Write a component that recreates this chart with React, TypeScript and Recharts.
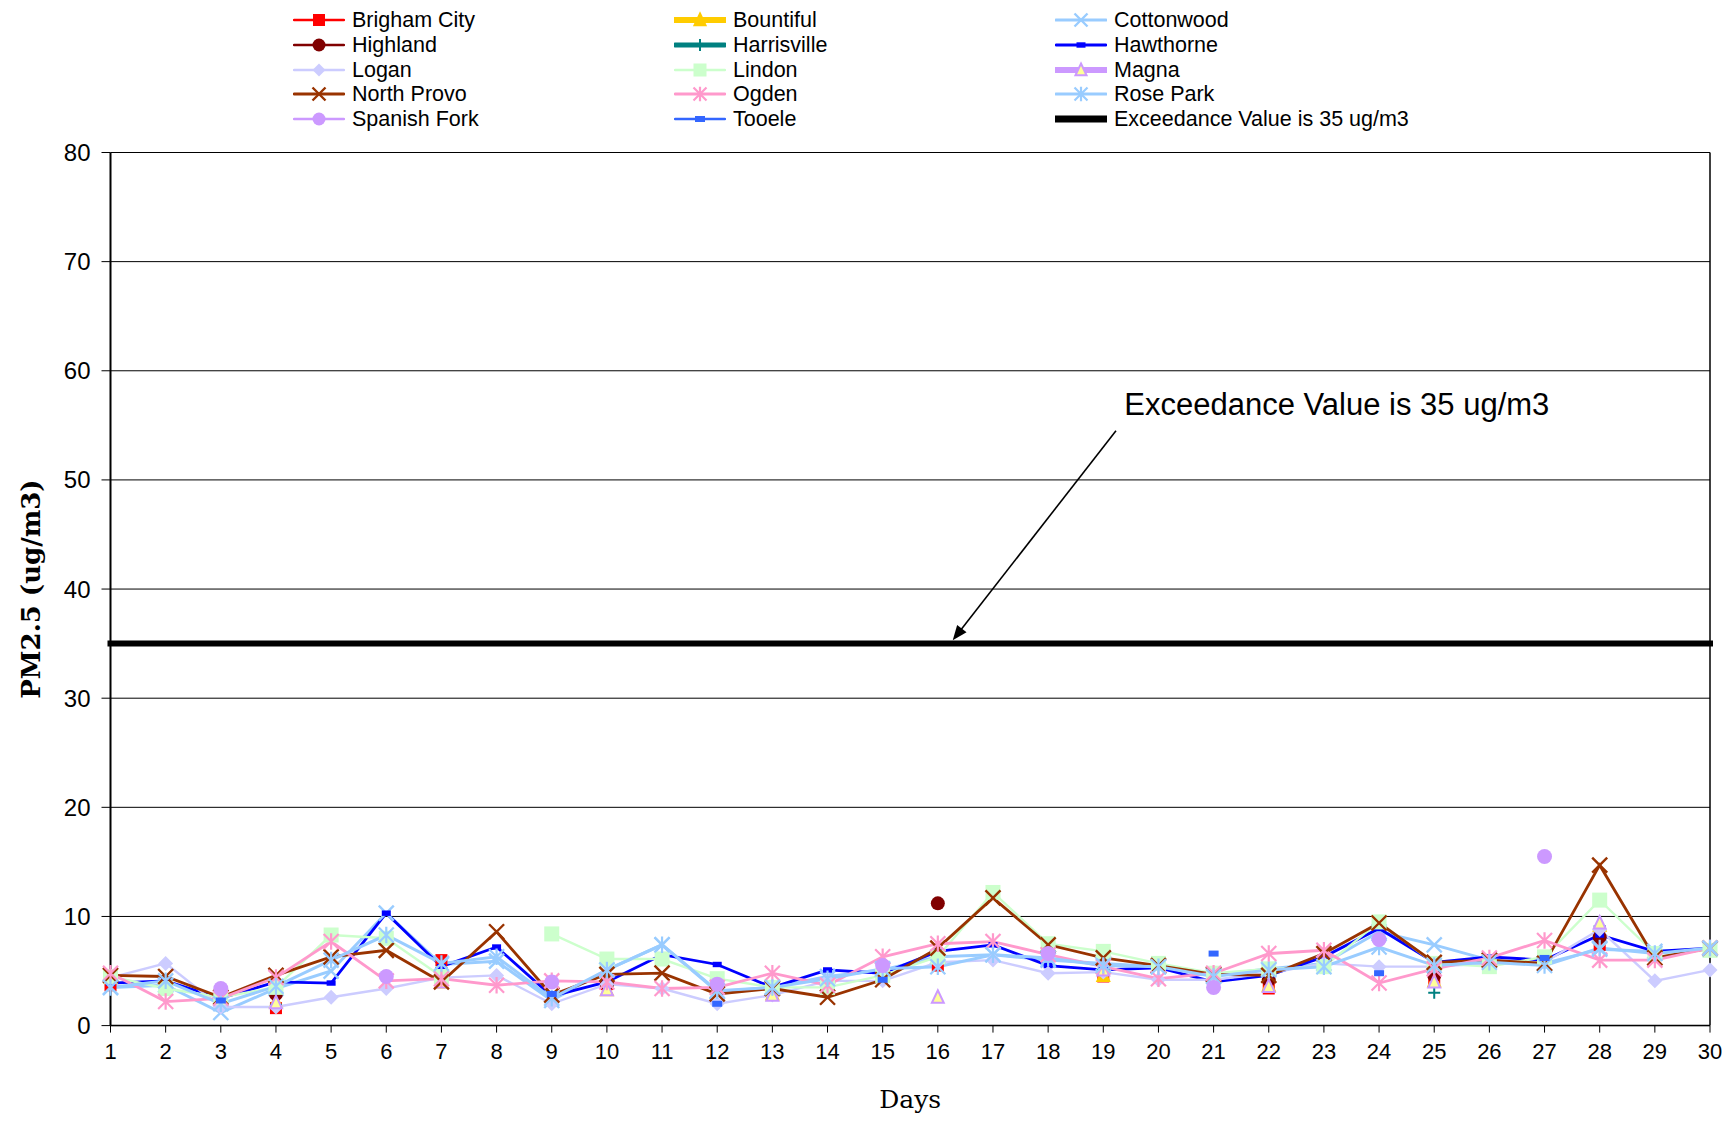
import React from 'react';
import { LineChart, Line, XAxis, YAxis, CartesianGrid, Legend, ReferenceLine, ReferenceDot, Label } from 'recharts';

const days = [1, 2, 3, 4, 5, 6, 7, 8, 9, 10, 11, 12, 13, 14, 15, 16, 17, 18, 19, 20, 21, 22, 23, 24, 25, 26, 27, 28, 29, 30];
const yTicks = [0, 10, 20, 30, 40, 50, 60, 70, 80];

const brighamCity = [3.7, null, null, 1.6, null, null, 6.0, null, null, 3.8, null, null, 3.3, null, null, 5.5, null, null, 4.5, null, null, 3.4, null, null, 4.3, null, null, 7.4, null, null];
const bountiful = [null, null, null, 2.2, null, null, 4.0, null, null, 3.3, null, null, 2.9, null, null, null, null, null, 4.6, null, null, 3.7, null, null, 4.1, null, null, 9.2, null, null];
const cottonwood = [3.5, 3.7, 1.2, 3.4, 5.0, 10.3, 5.6, 5.9, 2.3, 5.1, 7.4, 3.1, 3.5, 4.5, 5.1, 6.3, 6.5, 6.0, 5.7, 5.4, 4.6, 5.2, 5.7, 8.6, 7.4, 6.0, 5.7, 7.0, 6.8, 7.0];
const highland = [null, null, null, 2.9, null, null, null, null, null, 3.8, null, null, 3.3, null, null, 11.2, null, null, 6.8, null, null, 4.2, null, null, 4.6, null, null, 8.1, null, null];
const harrisville = [3.9, null, null, 1.9, null, null, 5.3, null, null, 3.6, null, null, 3.3, null, null, null, null, null, 5.1, null, null, 4.6, null, null, 3.0, null, null, 9.1, null, null];
const hawthorne = [3.9, 4.1, 2.5, 4.0, 3.9, 10.3, 5.4, 7.2, 2.7, 4.0, 6.5, 5.6, 3.5, 5.1, 4.8, 6.8, 7.4, 5.5, 5.1, 5.3, 4.0, 4.6, 6.3, 8.9, 5.8, 6.3, 6.0, 8.3, 6.8, 7.1];
const logan = [4.4, 5.7, 1.7, 1.7, 2.6, 3.4, 4.4, 4.6, 2.0, 3.8, 3.4, 2.0, 2.8, 4.1, 4.1, 5.8, 6.0, 4.8, 4.9, 4.2, 4.2, 4.8, 5.7, 5.4, 5.4, 5.7, 5.8, 8.8, 4.1, 5.1];
const lindon = [4.5, 3.4, 2.6, 3.5, 8.3, 8.0, 4.5, null, 8.4, 6.1, 6.1, 4.3, 3.5, 3.5, 4.6, 6.3, 12.2, 7.5, 6.8, 5.7, 4.8, 5.2, 5.4, 9.5, 5.7, 5.4, 6.3, 11.5, 6.6, 6.9];
const magna = [null, null, null, 2.1, null, null, 4.0, null, null, 3.3, null, null, 2.8, null, null, 2.6, null, null, 5.1, null, null, 3.6, null, null, 4.0, null, null, 9.4, null, null];
const northProvo = [4.6, 4.5, 2.6, 4.6, 6.3, 6.9, 4.0, 8.6, 2.8, 4.7, 4.8, 2.9, 3.4, 2.6, 4.2, 7.1, 11.7, 7.4, 6.2, 5.5, 4.7, 4.6, 6.6, 9.4, 5.8, 6.0, 5.7, 14.7, 6.2, 7.1];
const ogden = [4.8, 2.2, 2.5, 4.4, 7.7, 4.1, 4.3, 3.7, 4.1, 4.0, 3.4, 3.5, 4.8, 3.7, 6.3, 7.5, 7.7, 6.5, 5.4, 4.3, 4.8, 6.6, 6.9, 3.9, 5.2, 6.2, 7.8, 6.0, 6.0, 7.1];
const rosePark = [3.5, 4.1, 2.0, 3.6, 6.0, 8.3, 5.7, 6.3, 2.5, 5.1, 7.4, 3.2, 3.5, 4.3, 5.2, 5.4, 6.5, 6.2, 5.5, 5.4, 4.5, 5.1, 5.4, 7.2, 5.5, 5.8, 5.5, 7.1, 6.6, 7.1];
const spanishFork = [null, null, 3.4, null, null, 4.5, null, null, 4.0, null, null, 3.8, null, null, 5.5, null, null, 6.6, null, null, 3.5, null, null, 7.9, null, null, 15.5, null, null, null];
const tooele = [null, null, 2.3, null, null, null, null, null, 2.9, null, null, 2.0, null, null, 4.2, null, null, null, null, null, 6.6, null, null, 4.8, null, null, 6.2, null, null, null];
const exceedance = days.map(() => 35);

type Kind = 'square' | 'triangle' | 'x' | 'circle' | 'plus' | 'dash' | 'diamond' | 'asterisk' | 'none';

interface SeriesDef {
  key: string;
  name: string;
  values: (number | null)[];
  color: string;
  width: number;
  marker: Kind;
  fill?: string;
  size: number;
}

const series: SeriesDef[] = [
  { key: 'brigham', name: 'Brigham City', values: brighamCity, color: '#FF0000', width: 2.5, marker: 'square', size: 12 },
  { key: 'bountiful', name: 'Bountiful', values: bountiful, color: '#FFCC00', width: 6, marker: 'triangle', fill: '#FFCC00', size: 14 },
  { key: 'cottonwood', name: 'Cottonwood', values: cottonwood, color: '#99CCFF', width: 3, marker: 'x', size: 15 },
  { key: 'highland', name: 'Highland', values: highland, color: '#800000', width: 2.5, marker: 'circle', size: 14 },
  { key: 'harrisville', name: 'Harrisville', values: harrisville, color: '#008080', width: 5, marker: 'plus', size: 12 },
  { key: 'hawthorne', name: 'Hawthorne', values: hawthorne, color: '#0000FF', width: 2.8, marker: 'dash', size: 9 },
  { key: 'logan', name: 'Logan', values: logan, color: '#CCCCFF', width: 2.4, marker: 'diamond', size: 15 },
  { key: 'lindon', name: 'Lindon', values: lindon, color: '#CCFFCC', width: 2.4, marker: 'square', size: 15 },
  { key: 'magna', name: 'Magna', values: magna, color: '#CC99FF', width: 6, marker: 'triangle', fill: '#FFFF99', size: 14 },
  { key: 'northProvo', name: 'North Provo', values: northProvo, color: '#993300', width: 2.8, marker: 'x', size: 15 },
  { key: 'ogden', name: 'Ogden', values: ogden, color: '#FF99CC', width: 2.8, marker: 'asterisk', size: 15 },
  { key: 'rosePark', name: 'Rose Park', values: rosePark, color: '#99CCFF', width: 3, marker: 'asterisk', size: 15 },
  { key: 'spanishFork', name: 'Spanish Fork', values: spanishFork, color: '#CC99FF', width: 2.5, marker: 'circle', size: 15 },
  { key: 'tooele', name: 'Tooele', values: tooele, color: '#3366FF', width: 2.5, marker: 'dash', size: 10 },
  { key: 'exceedance', name: 'Exceedance Value is 35 ug/m3', values: exceedance, color: '#000000', width: 6, marker: 'none', size: 0 },
];

const chartData = days.map((day, i) => {
  const row: Record<string, number | null> = { day };
  series.forEach((s) => {
    row[s.key] = s.values[i];
  });
  return row;
});

const SANS = '"Liberation Sans", Arial, sans-serif';
const SERIF = '"DejaVu Serif", "Liberation Serif", serif';

interface MarkerProps {
  kind: Kind;
  x: number;
  y: number;
  color: string;
  fill?: string;
  size: number;
}

const Marker = ({ kind, x, y, color, fill, size }: MarkerProps) => {
  const h = size / 2;
  switch (kind) {
    case 'square':
      return <rect x={x - h} y={y - h} width={size} height={size} fill={color} />;
    case 'circle':
      return <circle cx={x} cy={y} r={h} fill={color} />;
    case 'diamond':
      return <polygon points={`${x},${y - h} ${x + h},${y} ${x},${y + h} ${x - h},${y}`} fill={color} />;
    case 'triangle':
      return (
        <polygon
          points={`${x},${y - h} ${x + h * 0.85},${y + h * 0.8} ${x - h * 0.85},${y + h * 0.8}`}
          fill={fill}
          stroke={color}
          strokeWidth={2}
        />
      );
    case 'x':
      return <path d={`M${x - h},${y - h}L${x + h},${y + h}M${x + h},${y - h}L${x - h},${y + h}`} stroke={color} strokeWidth={2.4} fill="none" />;
    case 'asterisk':
      return (
        <path
          d={`M${x - h},${y - h}L${x + h},${y + h}M${x + h},${y - h}L${x - h},${y + h}M${x},${y - h * 1.1}L${x},${y + h * 1.1}`}
          stroke={color}
          strokeWidth={2.2}
          fill="none"
        />
      );
    case 'plus':
      return <path d={`M${x - h},${y}L${x + h},${y}M${x},${y - h}L${x},${y + h}`} stroke={color} strokeWidth={2} fill="none" />;
    case 'dash':
      return <rect x={x - h} y={y - h * 0.6} width={size} height={size * 0.6} fill={color} />;
    default:
      return null;
  }
};

const makeDot = (s: SeriesDef) => (props: any) => {
  const { cx, cy, value, index } = props;
  if (value == null || cx == null || cy == null || Number.isNaN(cy)) return <g key={`e-${s.key}-${index}`} />;
  return (
    <g key={`m-${s.key}-${index}`}>
      <Marker kind={s.marker} x={cx} y={cy} color={s.color} fill={s.fill} size={s.size} />
    </g>
  );
};

const LEGEND_COLS = [293, 674, 1055];

const renderLegend = () => (
  <div style={{ position: 'relative', width: 1710, height: 152.5 }}>
    {series.map((s, i) => {
      const col = i % 3;
      const row = Math.floor(i / 3);
      const center = 20 + row * 24.8;
      return (
        <div
          key={s.key}
          style={{ position: 'absolute', left: LEGEND_COLS[col], top: center - 12, height: 24, display: 'flex', alignItems: 'center', whiteSpace: 'nowrap' }}
        >
          <svg width={52} height={24} style={{ display: 'block' }}>
            <line x1={1} y1={12} x2={51} y2={12} stroke={s.color} strokeWidth={s.key === 'exceedance' ? 7 : s.width} strokeLinecap="round" />
            {s.marker !== 'none' && <Marker kind={s.marker} x={26} y={12} color={s.color} fill={s.fill} size={Math.min(s.size, 13)} />}
          </svg>
          <span style={{ marginLeft: 7, fontSize: 21.5, fontFamily: SANS, color: '#000', lineHeight: '24px' }}>{s.name}</span>
        </div>
      );
    })}
  </div>
);

const YTitle = (props: any) => {
  const vb = props.viewBox || { x: 0, y: 152.5, width: 110.5, height: 873 };
  const cy = vb.y + vb.height / 2;
  return (
    <text x={31} y={cy} transform={`rotate(-90 31 ${cy})`} textAnchor="middle" dominantBaseline="central" fontFamily={SERIF} fontWeight="bold" fontSize={26} fill="#000">
      PM2.5 (ug/m3)
    </text>
  );
};

const XTitle = (props: any) => {
  const vb = props.viewBox || { x: 110.5, y: 1025.6, width: 1599.5, height: 94 };
  return (
    <text x={vb.x + vb.width / 2} y={vb.y + 74} textAnchor="middle" dominantBaseline="central" fontFamily={SERIF} fontSize={25} fill="#000">
      Days
    </text>
  );
};

const ArrowShape = (props: any) => {
  const { x1, y1, x2, y2 } = props;
  if ([x1, y1, x2, y2].some((v) => v == null)) return <g />;
  const ang = Math.atan2(y2 - y1, x2 - x1);
  const len = 16;
  const spread = 0.38;
  const ax = x2 - len * Math.cos(ang - spread);
  const ay = y2 - len * Math.sin(ang - spread);
  const bx = x2 - len * Math.cos(ang + spread);
  const by = y2 - len * Math.sin(ang + spread);
  return (
    <g>
      <line x1={x1} y1={y1} x2={x2 - 8 * Math.cos(ang)} y2={y2 - 8 * Math.sin(ang)} stroke="#000" strokeWidth={1.6} />
      <polygon points={`${x2},${y2} ${ax},${ay} ${bx},${by}`} fill="#000" />
    </g>
  );
};

const NoteText = (props: any) => {
  const { cx, cy } = props;
  if (cx == null || cy == null) return <g />;
  return (
    <text x={cx} y={cy} dominantBaseline="central" fontFamily={SANS} fontSize={31} fill="#000">
      Exceedance Value is 35 ug/m3
    </text>
  );
};

export default function App() {
  return (
    <div style={{ position: 'relative', margin: -8, width: 1733, height: 1120, borderBottom: '3px solid #333', background: '#fff' }}>
      <LineChart width={1733} height={1120} data={chartData} margin={{ top: 0, right: 23, bottom: 0, left: 0 }}>
        <Legend verticalAlign="top" align="left" content={renderLegend} />
        <CartesianGrid vertical={false} stroke="#000" strokeWidth={1} />
        <XAxis
          dataKey="day"
          type="number"
          domain={[1, 30]}
          ticks={days}
          interval={0}
          height={94.4}
          tickSize={7}
          tickMargin={11}
          stroke="#000"
          tickLine={{ stroke: '#000' }}
          axisLine={{ stroke: '#000', strokeWidth: 1.5 }}
          tick={{ fill: '#000', fontSize: 22, fontFamily: SANS }}
        >
          <Label content={XTitle} />
        </XAxis>
        <YAxis
          type="number"
          domain={[0, 80]}
          ticks={yTicks}
          interval={0}
          width={110.5}
          tickSize={9}
          tickMargin={11}
          tickLine={{ stroke: '#000' }}
          axisLine={{ stroke: '#000', strokeWidth: 2 }}
          tick={{ fill: '#000', fontSize: 24, fontFamily: SANS }}
        >
          <Label content={YTitle} />
        </YAxis>
        <ReferenceLine x={30} stroke="#000" strokeWidth={1.5} />
        {series.map((s) => (
          <Line
            key={s.key}
            dataKey={s.key}
            name={s.name}
            stroke={s.color}
            strokeWidth={s.width}
            strokeLinecap={s.key === 'exceedance' ? 'square' : 'butt'}
            dot={s.marker === 'none' ? false : makeDot(s)}
            activeDot={false}
            isAnimationActive={false}
            connectNulls={false}
            type="linear"
          />
        ))}
        <ReferenceLine
          segment={[
            { x: 19.23, y: 54.5 },
            { x: 16.27, y: 35.3 },
          ]}
          shape={ArrowShape}
          ifOverflow="visible"
        />
        <ReferenceDot x={19.38} y={56.9} r={0} shape={NoteText} ifOverflow="visible" />
      </LineChart>
    </div>
  );
}
